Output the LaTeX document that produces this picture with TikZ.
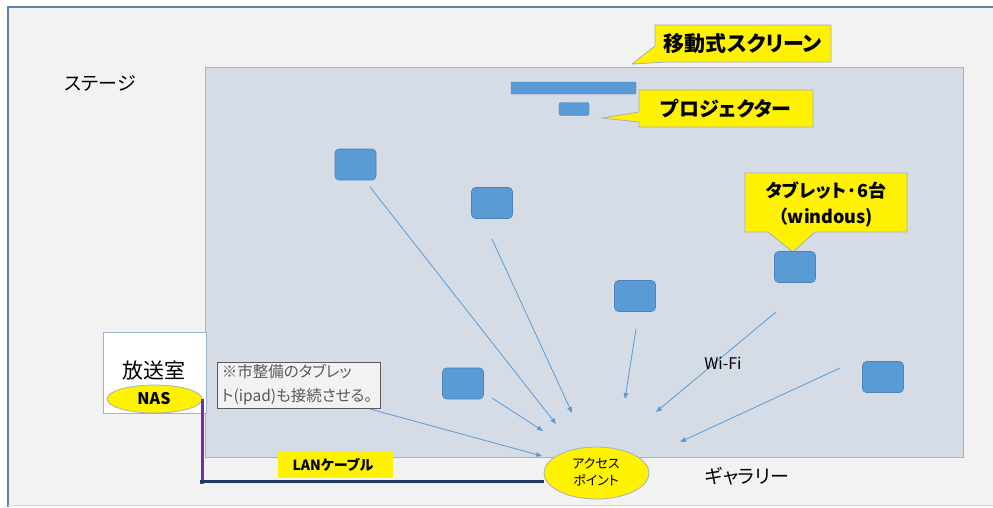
\documentclass[tikz,border=0pt]{standalone}
\usepackage{fontspec}
\setmainfont{Noto Sans CJK JP}[RawFeature=+palt]
\usetikzlibrary{arrows.meta,shapes.geometric}
\definecolor{bgc}{HTML}{F2F2F2}
\definecolor{stagefill}{HTML}{D6DCE5}
\definecolor{stageline}{HTML}{9DB3CF}
\definecolor{tabfill}{HTML}{5B9BD5}
\definecolor{tabline}{HTML}{4A84BD}
\definecolor{framec}{HTML}{5A80AC}
\definecolor{callline}{HTML}{A8B0B8}
\definecolor{notegray}{HTML}{595959}
\definecolor{lanpurple}{HTML}{7030A0}
\definecolor{lannavy}{HTML}{1F3864}
\tikzset{
  tablet/.style={draw=tabline, fill=tabfill, rounded corners=4pt, minimum width=41pt, minimum height=31pt, inner sep=0pt, line width=0.6pt},
  wifi/.style={draw=tabfill, line width=0.8pt, -{Triangle[length=6pt,width=4.5pt]}},
  callout/.style={draw=callline, fill=yellow, line width=0.8pt},
  lbl/.style={inner sep=0pt, align=center}
}
\begin{document}
\begin{tikzpicture}[x=1pt,y=-1pt]
\useasboundingbox (0,0) rectangle (993,507);
\fill[white] (0,0) rectangle (993,507);
\fill[bgc] (8,8) rectangle (993,505);
\draw[framec, line width=2.8pt] (8,507) -- (8,7) -- (993,7);
\draw[gray!35, line width=0.6pt] (8,505.5) -- (993,505.5);

% stage
\draw[stageline, fill=stagefill, line width=0.9pt] (205,67) rectangle (963,457);

% screen & projector
\node[draw=tabline, fill=tabfill, minimum width=125pt, minimum height=12pt, inner sep=0pt, rounded corners=1pt] (screen) at (573.5,88) {};
\node[draw=tabline, fill=tabfill, minimum width=30pt, minimum height=13pt, inner sep=0pt, rounded corners=2pt] (proj) at (574,109) {};

% callouts
\draw[callout] (655,25) -- (831,25) -- (831,62) -- (668,62) -- (632,64) -- (655,46) -- cycle;
\node[lbl, font=\bfseries\fontsize{21}{24}\selectfont] (screenlbl) at (743,44) {移動式スクリーン};
\draw[callout] (639,90) -- (813,90) -- (813,127) -- (639,127) -- (639,122) -- (602,118) -- (639,112) -- cycle;
\node[lbl, font=\bfseries\fontsize{20}{23}\selectfont] (projlbl) at (726,108.5) {プロジェクター};
\draw[callout] (745,173) -- (907,173) -- (907,232) -- (815,232) -- (793,252) -- (768,232) -- (745,232) -- cycle;
\node[lbl, font=\bfseries\fontsize{18}{26}\selectfont] (tablbl) at (826,204) {タブレット·6台\\（windous)};

% tablets
\node[tablet] (t1) at (355.5,164.5) {};
\node[tablet] (t2) at (492,203) {};
\node[tablet] (t3) at (635,296) {};
\node[tablet] (t4) at (463,383.5) {};
\node[tablet] (t5) at (795,267) {};
\node[tablet] (t6) at (883,377) {};

% note box
\node[draw=notegray, fill=bgc, line width=0.9pt, minimum width=163pt, minimum height=46pt, inner sep=0pt] (note) at (298.5,385) {};
\node[lbl, text=notegray, font=\fontsize{15.5}{24}\selectfont, align=left] (notetxt) at (297,385) {※市整備のタブレッ\\ト(ipad)も接続させる。};

% broadcast room
\node[draw=stageline, fill=white, minimum width=103pt, minimum height=81pt, inner sep=0pt, line width=0.8pt] (room) at (154.5,372.5) {};
\node[lbl, font=\fontsize{21}{22}\selectfont] (roomlbl) at (154,371) {放送室};
\node[ellipse, draw=callline, fill=yellow, minimum width=95pt, minimum height=28pt, inner sep=0pt, line width=0.8pt] (nas) at (154.5,399) {};
\node[lbl, font=\bfseries\fontsize{16}{18}\selectfont] (naslbl) at (154,399) {NAS};

% access point
\node[ellipse, draw=callline, fill=yellow, minimum width=105pt, minimum height=52pt, inner sep=0pt, line width=0.8pt] (ap) at (596.5,473) {};
\node[lbl, font=\fontsize{13}{17}\selectfont] (aplbl) at (596,472) {アクセス\\ポイント};

% LAN cable
\coordinate (corner) at (200,481);
\draw[lanpurple, line width=3pt] (nas.east) |- ([yshift=-1.5pt]corner);
\draw[lannavy, line width=3pt] (corner) -- (ap.west |- corner);
\node[fill=yellow, minimum width=115pt, minimum height=27pt, inner sep=0pt] (lanbox) at (335.5,464.5) {};
\node[lbl, font=\bfseries\fontsize{14}{16}\selectfont] (lanlbl) at (333,465) {LANケーブル};

% wifi arrows
\coordinate (s1) at (370,187); \coordinate (e1) at (556,424);
\coordinate (s2) at (492,239); \coordinate (e2) at (572,413);
\coordinate (s3) at (636,329); \coordinate (e3) at (625,399);
\coordinate (s4) at (492,398); \coordinate (e4) at (543,431);
\coordinate (s5) at (776,312); \coordinate (e5) at (656,412);
\coordinate (s6) at (840,368); \coordinate (e6) at (680,442);
\coordinate (s7) at (370,409); \coordinate (e7) at (542,456);
\foreach \i in {1,...,7} { \draw[wifi] (s\i) -- (e\i); }

% labels
\node[lbl, font=\fontsize{19}{21}\selectfont] (stagelbl) at (100,83) {ステージ};
\node[lbl, font=\fontsize{16}{18}\selectfont] (wifilbl) at (723,363) {Wi-Fi};
\node[lbl, font=\fontsize{19}{21}\selectfont] (gallbl) at (747,476) {ギャラリー};
\end{tikzpicture}
\end{document}
